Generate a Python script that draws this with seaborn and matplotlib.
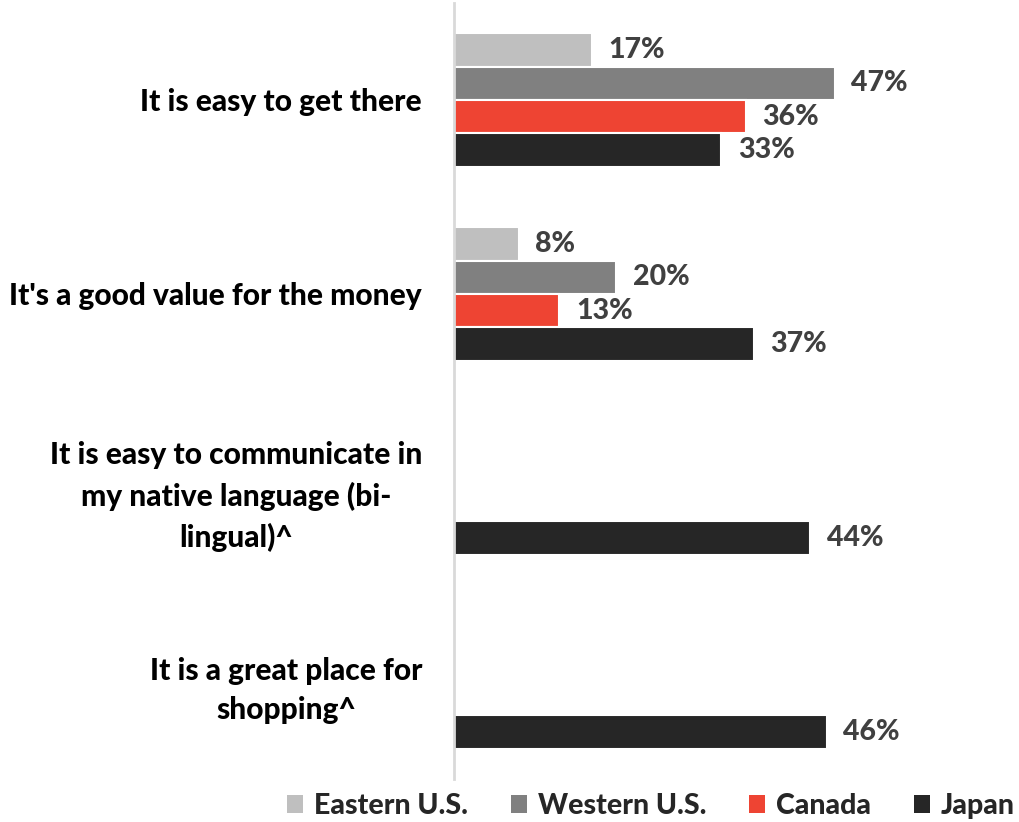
import numpy as np
import pandas as pd
import matplotlib
matplotlib.use("Agg")
import matplotlib.pyplot as plt
from matplotlib.patches import Patch
import seaborn as sns

categories = [
    "It is easy to get there",
    "It's a good value for the money",
    "It is easy to communicate in\nmy native language (bi-\nlingual)^",
    "It is a great place for\nshopping^",
]
regions = ["Eastern U.S.", "Western U.S.", "Canada", "Japan"]
eastern_us = [17, 8, np.nan, np.nan]
western_us = [47, 20, np.nan, np.nan]
canada = [36, 13, np.nan, np.nan]
japan = [33, 37, 44, 46]
colors = ["#BFBFBF", "#808080", "#EE4433", "#262626"]

rows = []
for reg, vals in zip(regions, [eastern_us, western_us, canada, japan]):
    for cat, v in zip(categories, vals):
        rows.append({"category": cat, "region": reg, "value": v})
df = pd.DataFrame(rows)

sns.set_theme(style="white")
plt.rcParams["font.family"] = ["Lato", "DejaVu Sans"]
plt.rcParams["font.weight"] = "bold"

fig = plt.figure(figsize=(10.19, 8.22), dpi=100)
ax = fig.add_axes([454 / 1019, 1 - 779 / 822, 486 / 1019, 776 / 822])

sns.barplot(
    data=df, y="category", x="value", hue="region",
    order=categories, hue_order=regions, palette=colors,
    orient="h", width=0.69, ax=ax, legend=False, saturation=1,
    edgecolor="white", linewidth=1.5,
)

for cont in ax.containers:
    vals = cont.datavalues
    labels = ["" if np.isnan(v) else f"{v:.0f}%" for v in vals]
    ax.bar_label(cont, labels=labels, padding=12, fontsize=20.5,
                 fontweight="black", color="#404040")

ax.set_xlim(0, 60)
ax.set_ylim(3.5, -0.5)
ax.set_xlabel("")
ax.set_ylabel("")
ax.set_xticks([])
for s in ["top", "right", "bottom"]:
    ax.spines[s].set_visible(False)
ax.spines["left"].set_color("#D9D9D9")
ax.spines["left"].set_linewidth(2)
ax.tick_params(axis="y", length=0, pad=23)
for lbl in ax.get_yticklabels():
    lbl.set_fontsize(21.5)
    lbl.set_fontweight("black")
    lbl.set_color("black")
    lbl.set_multialignment("center")
    lbl.set_linespacing(1.5)

handles = [Patch(facecolor=c, edgecolor="none") for c in colors]
fig.legend(handles, regions, loc="center", bbox_to_anchor=(651 / 1019, 1 - 806 / 822),
           ncol=4, frameon=False, handlelength=0.55, handleheight=0.55,
           handletextpad=0.4, columnspacing=1.5,
           prop={"weight": "black", "size": 20.5})

fig.savefig("out.png", dpi=100)
